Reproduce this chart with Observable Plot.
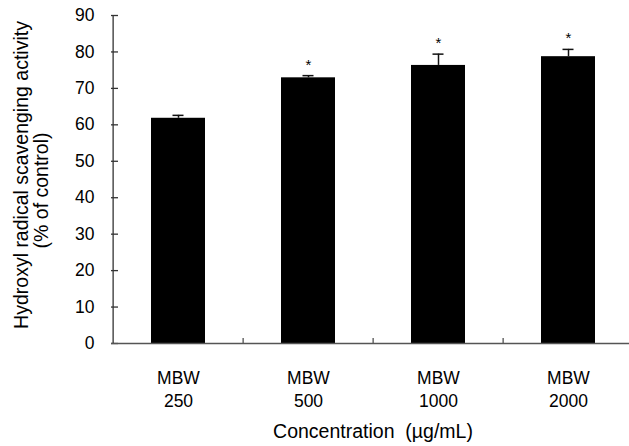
<!DOCTYPE html>
<html>
<head>
<meta charset="utf-8">
<script src="https://cdn.jsdelivr.net/npm/d3@7"></script>
<script src="https://cdn.jsdelivr.net/npm/@observablehq/plot@0.6"></script>
<style>
  html, body { margin: 0; padding: 0; background: #fff; }
  svg { display: block; }
</style>
</head>
<body>
<div id="chart"></div>
<script>
const categories = ["MBW\n250", "MBW\n500", "MBW\n1000", "MBW\n2000"];
const means = [61.8, 72.9, 76.3, 78.7];
const errors = [0.8, 0.6, 3.1, 2.0];
const marks = ["", "*", "*", "*"];
const yTicks = [0, 10, 20, 30, 40, 50, 60, 70, 80, 90];
const xTitle = "Concentration  (µg/mL)";
const yTitle1 = "Hydroxyl radical scavenging activity";
const yTitle2 = "(% of control)";

const data = categories.map((c, i) => ({cat: c, mean: means[i], err: errors[i], sig: marks[i]}));

const W = 629, H = 446, ML = 111, MR = -5, MT = 15, MB = 103;
const step = (W - ML - MR) / categories.length;
const font = "Liberation Sans, Arial, sans-serif";

const chart = Plot.plot({
  width: W,
  height: H,
  marginLeft: ML,
  marginRight: MR,
  marginTop: MT,
  marginBottom: MB,
  style: {fontFamily: font, fontSize: "17.5px", color: "#000", background: "#fff", overflow: "visible"},
  x: {domain: categories, paddingInner: 0.587, paddingOuter: 0.2935},
  y: {domain: [0, 90]},
  marks: [
    Plot.barY(data, {x: "cat", y: "mean", fill: "#000"}),
    Plot.ruleX(data, {x: "cat", y1: "mean", y2: d => d.mean + d.err, stroke: "#111", strokeWidth: 1.5}),
    Plot.tickY(data, {x: "cat", y: d => d.mean + d.err, stroke: "#111", strokeWidth: 1.5, insetLeft: 21.5, insetRight: 21.5}),
    Plot.text(data, {x: "cat", y: d => d.mean + d.err, text: "sig", lineAnchor: "bottom", dy: -6, fontSize: 15, fill: "#000"}),
    Plot.ruleX(categories.slice(1), {x: d => d, dx: -step / 2, y1: 0, y2: 1.4, stroke: "#444", strokeWidth: 1.2}),
    Plot.axisY({ticks: yTicks, tickSize: -7, tickPadding: 24, stroke: "#333", strokeWidth: 1.3, label: null, fontSize: 17.5}),
    Plot.axisX({tickSize: 0, tickPadding: 23, label: null, fontSize: 17.5, lineHeight: 1.37}),
    Plot.ruleY([0], {stroke: "#555", strokeWidth: 1.5}),
    Plot.ruleX([categories[0]], {x: d => d, dx: -step / 2, stroke: "#333", strokeWidth: 1.3}),
    Plot.text([xTitle], {frameAnchor: "bottom", lineAnchor: "middle", dy: 88, fontSize: 19.5, fill: "#000"}),
    Plot.text([yTitle1], {frameAnchor: "left", rotate: -90, textAnchor: "middle", lineAnchor: "middle", dx: -90, dy: -4.5, fontSize: 19.5, fill: "#000"}),
    Plot.text([yTitle2], {frameAnchor: "left", rotate: -90, textAnchor: "middle", lineAnchor: "middle", dx: -70, dy: 11, fontSize: 19.5, fill: "#000"})
  ]
});
document.getElementById("chart").appendChild(chart);
</script>
</body>
</html>
